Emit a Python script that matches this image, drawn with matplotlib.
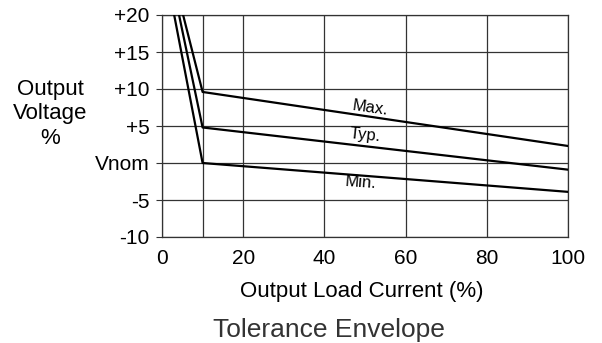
import matplotlib.pyplot as plt

# data
max_x = [5.2, 10, 100]
max_y = [20, 9.6, 2.3]
typ_x = [4.2, 10, 100]
typ_y = [20, 4.8, -0.9]
min_x = [3.0, 10, 100]
min_y = [20, 0.0, -3.9]

y_ticks = [-10, -5, 0, 5, 10, 15, 20]
y_labels = ["-10", "-5", "Vnom", "+5", "+10", "+15", "+20"]
x_ticks = [0, 20, 40, 60, 80, 100]

plt.rcParams["font.family"] = ["Liberation Sans", "DejaVu Sans"]

fig = plt.figure(figsize=(6.02, 3.43), dpi=100)
ax = fig.add_axes([162 / 602, 1 - 237 / 343, (568 - 162) / 602, (237 - 15) / 343])

for xs, ys in [(max_x, max_y), (typ_x, typ_y), (min_x, min_y)]:
    ax.plot(xs, ys, color="black", lw=1.6, zorder=3)

ax.set_xlim(0, 100)
ax.set_ylim(-10, 20)
ax.set_xticks(x_ticks)
ax.set_xticks([10], minor=True)
ax.set_yticks(y_ticks)
ax.set_yticklabels(y_labels)
ax.grid(True, which="both", color="#333333", lw=0.9)
ax.tick_params(axis="y", which="major", labelsize=15, length=4, pad=5,
               color="#333333")
ax.tick_params(axis="x", which="major", labelsize=15, length=0, pad=9)
ax.tick_params(axis="both", which="minor", length=0)
for s in ax.spines.values():
    s.set_color("#333333")
    s.set_linewidth(0.9)

ax.text(51.2, 7.4, "Max.", fontsize=12, rotation=-8, ha="center", va="center")
ax.text(50, 3.8, "Typ.", fontsize=12, rotation=-6, ha="center", va="center")
ax.text(48.8, -2.7, "Min.", fontsize=12, rotation=-4, ha="center", va="center")

fig.text(362 / 602, 1 - 292 / 343, "Output Load Current (%)", fontsize=16,
         ha="center", va="center")
fig.text(50 / 602, 1 - 114 / 343, "Output\nVoltage\n%", fontsize=16,
         ha="center", va="center", linespacing=1.25)
fig.text(329 / 602, 1 - 330 / 343, "Tolerance Envelope", fontsize=19,
         ha="center", va="center", color="#333333")

fig.savefig("out.png", dpi=100)
